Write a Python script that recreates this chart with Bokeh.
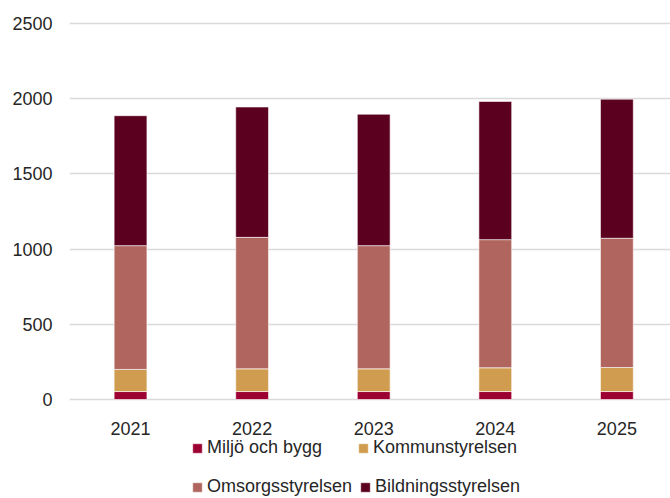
from bokeh.plotting import figure
from bokeh.models import ColumnDataSource, FixedTicker, Legend, LegendItem, Range1d
from bokeh.core.properties import value
from bokeh.embed import file_html
from bokeh.resources import INLINE

years = [2021, 2022, 2023, 2024, 2025]
year_labels = ["2021", "2022", "2023", "2024", "2025"]
series_names = ["Miljö och bygg", "Kommunstyrelsen", "Omsorgsstyrelsen", "Bildningsstyrelsen"]
miljo = [53, 53, 53, 53, 53]
kommun = [147, 151, 151, 158, 160]
omsorg = [823, 874, 819, 852, 859]
bildning = [864, 867, 874, 919, 925]
y_ticks = [0, 500, 1000, 1500, 2000, 2500]

colors = ["#9C0033", "#D09C4F", "#B0665F", "#5C001F"]
keys = ["miljo", "kommun", "omsorg", "bildning"]

source = ColumnDataSource(dict(year=years, miljo=miljo, kommun=kommun,
                               omsorg=omsorg, bildning=bildning))
label_source = ColumnDataSource(dict(year=years, base=[0] * len(years), text=year_labels))

FONT = "Liberation Sans"
TEXT_COLOR = "#262626"

# frame runs down to the bottom of the page so the legend (drawn inside the frame) is not clipped;
# the negative part of the y range holds the category labels and the legend.
p = figure(width=670, height=498, output_backend="svg", toolbar_location=None,
           x_range=Range1d(2020.498, 2025.441), y_range=Range1d(-658.2, 2513.3),
           x_axis_location=None,
           min_border_left=69, min_border_right=0, min_border_top=21,
           min_border_bottom=0)
p.outline_line_color = None
p.xgrid.grid_line_color = None
p.ygrid.grid_line_color = "#d9d9d9"
p.ygrid.grid_line_width = 1.3

renderers = p.vbar_stack(keys, x="year", width=0.27, source=source,
                         fill_color=colors, line_color="white", line_width=0.6)

p.yaxis.ticker = FixedTicker(ticks=y_ticks)
ax = p.yaxis[0]
ax.axis_line_color = None
ax.major_tick_line_color = None
ax.minor_tick_line_color = None
ax.major_tick_out = 0
ax.minor_tick_out = 0
ax.major_label_text_font = FONT
ax.major_label_text_font_size = "18px"
ax.major_label_text_color = TEXT_COLOR
ax.major_label_standoff = 17

p.text(x="year", y="base", text="text", source=label_source,
       text_font=value(FONT), text_font_size="18px", text_color=TEXT_COLOR,
       text_align="center", text_baseline="middle", y_offset=29)

positions = [(122, 40), (288, 40), (122, 1), (290, 1)]
for name, r, loc in zip(series_names, renderers, positions):
    lg = Legend(items=[LegendItem(label=name, renderers=[r])], location=loc,
                orientation="horizontal", padding=0, margin=0,
                border_line_color=None, background_fill_alpha=0,
                glyph_width=12, glyph_height=12, label_standoff=4,
                label_text_font=FONT, label_text_font_size="18px",
                label_text_color=TEXT_COLOR, label_height=10)
    p.add_layout(lg, "center")

open("out.html", "w").write(file_html(p, INLINE))
